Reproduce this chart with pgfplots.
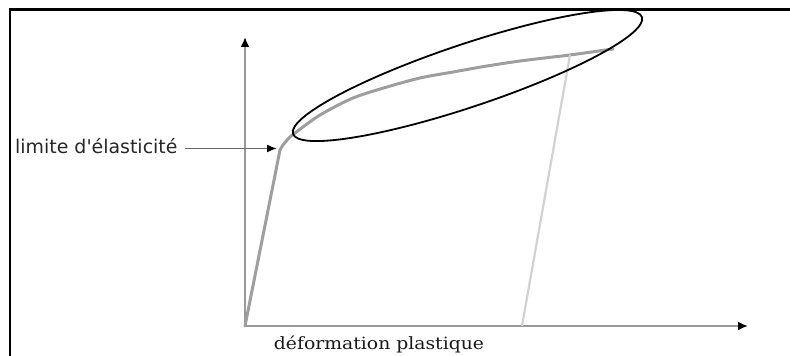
\documentclass[border=0pt]{standalone}
\usepackage{pgfplots}
\pgfplotsset{compat=1.18}
\usepackage{fontspec}
\usetikzlibrary{arrows.meta}
\newfontfamily\labelsans{DejaVu Sans}
\newfontfamily\labelserif{DejaVu Serif}
\definecolor{axisgray}{HTML}{989898}
\definecolor{curvegray}{HTML}{9E9E9E}
\definecolor{unloadgray}{HTML}{D2D2D2}
\definecolor{arrowgray}{HTML}{6A6A6A}
\begin{document}
\begin{tikzpicture}
\begin{axis}[
  scale only axis,
  width=503bp, height=289bp,
  xmin=0, xmax=503, ymin=0, ymax=289,
  axis lines=left,
  axis line style={draw=axisgray, line width=2.8bp,
    -{Latex[length=10bp,width=9bp,color=black]}},
  xtick=\empty, ytick=\empty,
  clip=false,
  xlabel={\labelserif\fontsize{17}{19}\selectfont\scalebox{1.11}[1]{déformation plastique}},
  xlabel style={at={(axis cs:134,0)}, anchor=base, yshift=-23bp, inner sep=0pt, text=black!90},
]
% elastic loading
\addplot[curvegray, line width=3bp, line cap=round] coordinates {(0,0) (35,176)};
% hardening branch
\addplot[curvegray, line width=3bp, line cap=round, smooth] coordinates {
  (35,176) (38,181) (44,188) (50,193) (75,211) (108,228) (142,239)
  (175,248) (208,254) (242,260) (275,265) (308,269) (325,271) (368,277)};
% elastic unloading
\addplot[unloadgray, line width=2.2bp] coordinates {(325,271) (277,0)};

\coordinate (bl) at (axis cs:-245,-30);
\coordinate (tr) at (axis cs:545,326);
\coordinate (ec) at (axis cs:222.5,250.5);
\coordinate (lblA) at (axis cs:-60,177.5);
\coordinate (lblB) at (axis cs:32,177.5);
\coordinate (lbl) at (axis cs:-230,172);
\coordinate (frL) at (axis cs:-235,-40);
\coordinate (frT) at (axis cs:-235,316.5);
\coordinate (frR) at (axis cs:560,316.5);
\end{axis}

% yield point label and its arrow
\node[anchor=base west, inner sep=0pt, text=black!85,
  font=\labelsans\fontsize{19}{22}\selectfont] at (lbl) {limite d'élasticité};
\draw[arrowgray, line width=1.6bp, -{Latex[length=10bp,width=8bp,color=black]}] (lblA) -- (lblB);

% highlight of the hardening zone
\draw[black, line width=1.8bp, rotate around={18.5:(ec)}] (ec) ellipse [x radius=184bp, y radius=31.4bp];

% frame
\draw[black, line width=2.5bp] (frL) -- (frT) -- (frR);

\pgfresetboundingbox
\path (bl) rectangle (tr);
\end{tikzpicture}
\end{document}
